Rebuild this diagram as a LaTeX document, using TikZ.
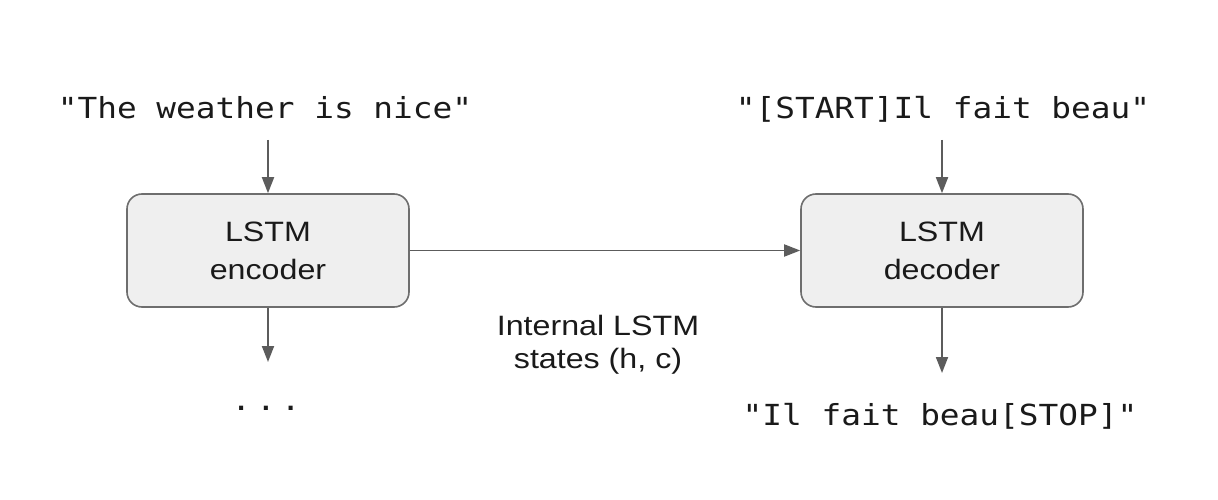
\documentclass[tikz,border=0pt]{standalone}
\usepackage{fontspec}
\usetikzlibrary{arrows.meta}
\newfontfamily\codefont[FakeStretch=1.13]{DejaVu Sans Mono}
\newfontfamily\labelfont[FakeStretch=1.15]{Liberation Sans}
\definecolor{boxfill}{HTML}{EFEFEF}
\definecolor{boxline}{HTML}{6E6E6E}
\definecolor{arrowgray}{HTML}{5C5C5C}
\definecolor{ink}{HTML}{1A1A1A}
\tikzset{
  lstmbox/.style={draw=boxline, line width=1.6pt, fill=boxfill, rounded corners=15pt,
    minimum width=282pt, minimum height=113pt, inner sep=0pt, align=center,
    text=ink, font=\labelfont\fontsize{28}{38}\selectfont},
  seqtext/.style={anchor=base, inner sep=0pt, text=ink, font=\codefont\fontsize{29}{34}\selectfont},
  notetext/.style={align=center, inner sep=0pt, text=ink, font=\labelfont\fontsize{28}{33}\selectfont},
  flow/.style={draw=arrowgray, line width=1.8pt, -{Triangle[length=16pt,width=12pt]}}
}
\begin{document}
\begin{tikzpicture}[x=1pt,y=-1pt]
  \useasboundingbox[fill=white] (0,0) rectangle (1218,500);

  % encoder and decoder blocks
  \node[lstmbox] (enc) at (268,250.5) {LSTM\\encoder};
  \node[lstmbox] (dec) at (942,250.5) {LSTM\\decoder};

  % input / output sequences
  \node[seqtext] (inL) at (265,119) {"The weather is nice"};
  \node[seqtext] (inR) at (943,119) {"[START]Il fait beau"};
  \node[seqtext] (outR) at (940,425) {"Il fait beau[STOP]"};
  \node[seqtext] (outL) at (266,410) {.\hspace{5pt}.\hspace{5pt}.};

  % state label
  \node[notetext, anchor=base] (st1) at (598,335) {Internal LSTM};
  \node[notetext, anchor=base] (st2) at (598,368) {states (h, c)};

  % arrow end points below the blocks
  \coordinate (encdown) at (268,362);
  \coordinate (decdown) at (942,373);

  % connectors
  \draw[flow] ([yshift=-21pt]inL.base -| enc.north) -- (enc.north);
  \draw[flow] ([yshift=-21pt]inR.base -| dec.north) -- (dec.north);
  \draw[flow] (enc.east) -- (dec.west);
  \draw[flow] (enc.south) -- (encdown);
  \draw[flow] (dec.south) -- (decdown);
\end{tikzpicture}
\end{document}
